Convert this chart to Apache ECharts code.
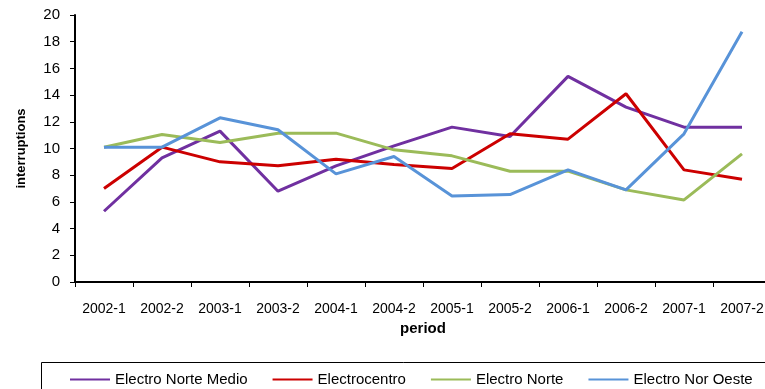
<!DOCTYPE html>
<html>
<head>
<meta charset="utf-8">
<script src="https://cdn.jsdelivr.net/npm/echarts@6/dist/echarts.min.js"></script>
<style>
  html, body { margin: 0; padding: 0; background: #fff; }
  #chart { width: 765px; height: 389px; }
</style>
</head>
<body>
<div id="chart"></div>
<script>
// Half-year periods on the category axis
const periods = ['2002-1', '2002-2', '2003-1', '2003-2', '2004-1', '2004-2',
                 '2005-1', '2005-2', '2006-1', '2006-2', '2007-1', '2007-2'];

// Interruptions per distribution company
const electroNorteMedio = [5.3, 9.3, 11.3, 6.8, 8.7, 10.2, 11.6, 10.9, 15.4, 13.1, 11.6, 11.6];
const electrocentro     = [7.0, 10.1, 9.0, 8.7, 9.2, 8.8, 8.5, 11.1, 10.7, 14.1, 8.4, 7.7];
const electroNorte      = [10.1, 11.05, 10.45, 11.15, 11.15, 9.9, 9.45, 8.3, 8.3, 6.9, 6.15, 9.6];
const electroNorOeste   = [10.1, 10.1, 12.3, 11.4, 8.1, 9.4, 6.45, 6.55, 8.4, 6.9, 11.1, 18.75];

const yTicks = { min: 0, max: 20, interval: 2 };

const seriesDefs = [
  { name: 'Electro Norte Medio', data: electroNorteMedio, color: '#7030A0' },
  { name: 'Electrocentro',       data: electrocentro,     color: '#CC0000' },
  { name: 'Electro Norte',       data: electroNorte,      color: '#9BBB59' },
  { name: 'Electro Nor Oeste',   data: electroNorOeste,   color: '#5893D8' }
];

const font = '"Liberation Sans", Arial, sans-serif';
const chart = echarts.init(document.getElementById('chart'), null, { renderer: 'canvas' });

chart.setOption({
  animation: false,
  backgroundColor: '#ffffff',
  textStyle: { fontFamily: font },
  grid: { left: 75, top: 15, width: 696, height: 267, containLabel: false, outerBoundsMode: 'none' },
  xAxis: {
    type: 'category',
    data: periods,
    boundaryGap: true,
    name: 'period',
    nameLocation: 'middle',
    nameGap: 37,
    nameTextStyle: { fontFamily: font, fontSize: 15, fontWeight: 'bold', color: '#000' },
    axisLine: { lineStyle: { color: '#000', width: 2 } },
    axisTick: { show: true, alignWithLabel: false, length: 5, lineStyle: { color: '#000', width: 1 } },
    axisLabel: { fontFamily: font, fontSize: 14, color: '#000', margin: 20, interval: 0, hideOverlap: false },
    splitLine: { show: false }
  },
  yAxis: {
    type: 'value',
    min: yTicks.min,
    max: yTicks.max,
    interval: yTicks.interval,
    name: 'interruptions',
    nameLocation: 'middle',
    nameRotate: 90,
    nameGap: 47,
    nameTextStyle: { fontFamily: font, fontSize: 13, fontWeight: 'bold', color: '#000' },
    axisLine: { show: true, lineStyle: { color: '#000', width: 2 } },
    axisTick: { show: true, length: 5, lineStyle: { color: '#000', width: 1 } },
    axisLabel: { fontFamily: font, fontSize: 15, color: '#000', margin: 15 },
    splitLine: { show: false }
  },
  legend: {
    left: 65,
    top: 367,
    itemWidth: 40,
    itemHeight: 2,
    itemGap: 25,
    icon: 'rect',
    textStyle: { fontFamily: font, fontSize: 15, color: '#000' },
    data: seriesDefs.map(s => s.name)
  },
  graphic: [{
    type: 'rect',
    shape: { x: 41.5, y: 362.5, width: 760, height: 60 },
    style: { fill: 'none', stroke: '#000', lineWidth: 1 },
    silent: true
  }],
  series: seriesDefs.map(s => ({
    name: s.name,
    type: 'line',
    data: s.data,
    symbol: 'none',
    color: s.color,
    lineStyle: { color: s.color, width: 3 },
    itemStyle: { color: s.color }
  }))
});
</script>
</body>
</html>
